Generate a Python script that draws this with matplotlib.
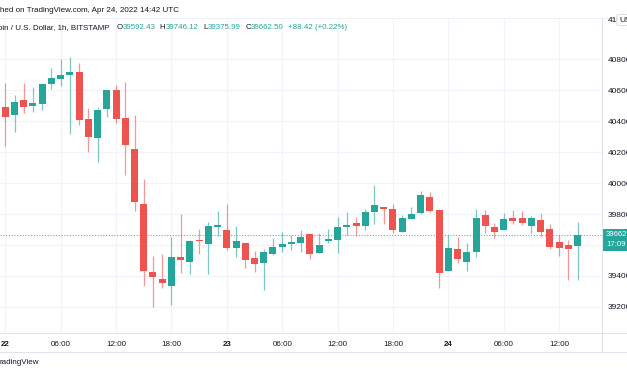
import matplotlib.pyplot as plt
from matplotlib.patches import Rectangle
from matplotlib.lines import Line2D

# hourly candles, Apr 22 00:00 -> Apr 24 14:00 (UTC)
opens = [40495, 40443, 40536, 40501, 40512, 40640, 40674, 40698, 40719, 40417,
         40293, 40478, 40601, 40422, 40224, 39866, 39425, 39377, 39338, 39522,
         39490, 39634, 39606, 39716, 39700, 39580, 39612, 39515, 39485, 39541,
         39588, 39606, 39614, 39670, 39550, 39627, 39634, 39718, 39743, 39720,
         39813, 39845, 39836, 39685, 39771, 39808, 39910, 39826, 39435, 39573,
         39493, 39554, 39797, 39718, 39696, 39774, 39774, 39724, 39761, 39705,
         39621, 39603, 39592.43]
highs = [40646, 40571, 40646, 40624, 40645, 40743, 40803, 40814, 40775, 40485,
         40491, 40605, 40635, 40653, 40441, 40026, 39530, 39539, 39649, 39802,
         39632, 39705, 39752, 39821, 39862, 39722, 39615, 39561, 39575, 39645,
         39685, 39664, 39700, 39672, 39677, 39705, 39784, 39813, 39778, 39834,
         39987, 39848, 39864, 39793, 39847, 39952, 39944, 39834, 39664, 39651,
         39612, 39836, 39827, 39742, 39810, 39827, 39819, 39787, 39806, 39733,
         39664, 39634, 39746.12]
lows = [40241, 40333, 40456, 40461, 40474, 40611, 40631, 40319, 40377, 40200,
        40140, 40430, 40388, 40054, 39817, 39332, 39199, 39319, 39214, 39418,
        39414, 39539, 39414, 39659, 39569, 39524, 39451, 39427, 39306, 39535,
        39556, 39569, 39556, 39509, 39548, 39610, 39548, 39664, 39659, 39696,
        39739, 39739, 39677, 39682, 39769, 39800, 39815, 39323, 39432, 39483,
        39435, 39522, 39679, 39643, 39694, 39739, 39729, 39679, 39655, 39575,
        39526, 39371, 39375.99]
closes = [40426, 40527, 40495, 40517, 40642, 40680, 40698, 40719, 40411, 40299,
          40472, 40601, 40417, 40249, 39879, 39435, 39390, 39354, 39522, 39500,
          39629, 39625, 39722, 39729, 39580, 39627, 39506, 39480, 39552, 39590,
          39608, 39619, 39651, 39541, 39599, 39638, 39718, 39729, 39726, 39813,
          39858, 39830, 39698, 39774, 39800, 39922, 39821, 39418, 39580, 39511,
          39554, 39774, 39722, 39681, 39769, 39756, 39743, 39774, 39687, 39590,
          39578, 39571, 39662.50]

time_ticks = [0, 6, 12, 18, 24, 30, 36, 42, 48, 54, 60]
time_labels = ['22', '06:00', '12:00', '18:00', '23', '06:00', '12:00', '18:00', '24', '06:00', '12:00']
price_ticks = [39200, 39400, 39600, 39800, 40000, 40200, 40400, 40600, 40800]

up = '#26a69a'
down = '#ef5350'
txt = '#131722'
line_col = '#e0e3eb'

plt.rcParams['font.family'] = ['Liberation Sans', 'DejaVu Sans']

W, H = 627, 376
fig = plt.figure(figsize=(W / 100, H / 100), dpi=100)


def fx(p):
    return p / W


def fy(p):
    return 1 - p / H


ax = fig.add_axes([0, fy(333), fx(602), (333 - 18) / H])
ax.set_xlim(-0.574, 64.65)
ax.set_ylim(39031, 41068)

x = list(range(len(opens)))
colors = [up if c >= o else down for o, c in zip(opens, closes)]
bottoms = [min(o, c) for o, c in zip(opens, closes)]
heights = [max(abs(c - o), 7) for o, c in zip(opens, closes)]

ax.vlines(x, lows, highs, colors=colors, linewidth=0.9, alpha=0.6, zorder=2)
ax.bar(x, heights, 0.76, bottom=bottoms, color=colors, linewidth=0, zorder=3)

# last price line
ax.axhline(closes[-1], color=up, lw=0.8, ls=(0, (1, 1.5)), alpha=0.8, zorder=1)

ax.set_xticks(time_ticks)
ax.set_xticklabels(time_labels)
ax.set_yticks(price_ticks)
ax.set_yticklabels([str(p) for p in price_ticks])
ax.yaxis.tick_right()
ax.tick_params(axis='x', length=0, pad=5.5, labelsize=5.8, labelcolor=txt)
ax.tick_params(axis='y', length=0, pad=4.3, labelsize=6, labelcolor=txt)
for lab in ax.get_xticklabels():
    if ':' not in lab.get_text():
        lab.set_fontweight('bold')
ax.grid(color='#f0f3fa', lw=0.8)
ax.set_axisbelow(True)
for s in ax.spines.values():
    s.set_visible(False)

# pane borders
fig.add_artist(Line2D([0, 1], [fy(18), fy(18)], color='#eceff4', lw=0.8))
fig.add_artist(Line2D([0, 1], [fy(333), fy(333)], color=line_col, lw=0.8))
fig.add_artist(Line2D([0, 1], [fy(352), fy(352)], color=line_col, lw=0.8))
fig.add_artist(Line2D([fx(602), fx(602)], [fy(18), fy(352)], color=line_col, lw=0.8))

# header (cropped on the left like the screenshot)
fs = 5.7
fig.text(fx(0), fy(10), 'hed on TradingView.com, Apr 24, 2022 14:42 UTC',
         fontsize=5.8, color=txt, va='center', ha='left')
fig.text(fx(-2), fy(27.7), 'oin / U.S. Dollar, 1h, BITSTAMP',
         fontsize=fs, color=txt, va='center', ha='left')
for lab, lx, val, vx in [('O', 116.5, '39592.43', 122.5),
                         ('H', 159.8, '39746.12', 165.5),
                         ('L', 203, '39375.99', 207.8),
                         ('C', 245.8, '39662.50', 251.2)]:
    fig.text(fx(lx), fy(27.7), lab, fontsize=fs, color=txt, va='center', ha='left')
    fig.text(fx(vx), fy(27.7), val, fontsize=fs, color=up, va='center', ha='left')
fig.text(fx(287.7), fy(27.7), '+88.42 (+0.22%)', fontsize=fs, color=up, va='center', ha='left')

# top price label partly hidden by currency button
fig.text(fx(608), fy(20), '41000', fontsize=6, color=txt, va='center', ha='left')
fig.text(fx(619), fy(20), 'USD', fontsize=6, color=txt, va='center', ha='left', zorder=5,
         bbox=dict(boxstyle='round,pad=0.25', fc='white', ec='#d1d4dc', lw=0.6))

# last price tag
fig.add_artist(Rectangle((fx(602), fy(251)), fx(30), (251 - 229) / H, color=up, lw=0))
fig.text(fx(606), fy(234.6), '39662.50', fontsize=5.6, color='white', va='center', ha='left')
fig.text(fx(606), fy(244.4), '17:09', fontsize=5.6, color='white', va='center', ha='left')

fig.text(fx(-1), fy(363), 'radingView', fontsize=5.8, color=txt, va='center', ha='left')

fig.savefig('out.png', dpi=100)
